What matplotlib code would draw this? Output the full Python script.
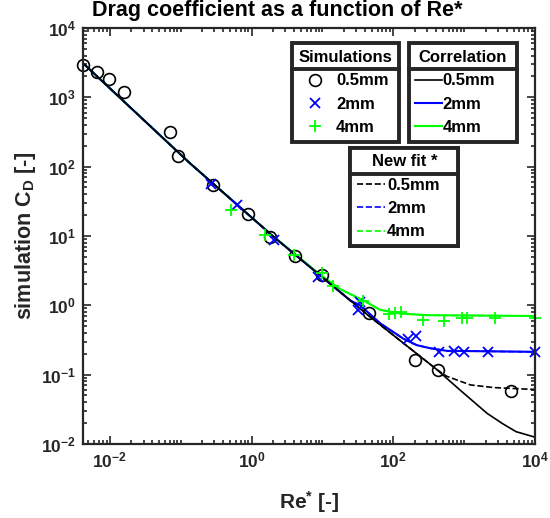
import matplotlib
matplotlib.use("Agg")
import matplotlib.pyplot as plt
from matplotlib.lines import Line2D
import numpy as np

FONT = ["Liberation Sans", "DejaVu Sans"]
DARK = "#262626"
plt.rcParams["font.family"] = FONT
plt.rcParams["font.weight"] = "bold"
plt.rcParams["mathtext.fontset"] = "custom"
plt.rcParams["mathtext.rm"] = "Liberation Sans:bold"
plt.rcParams["mathtext.it"] = "Liberation Sans:bold"
plt.rcParams["mathtext.bf"] = "Liberation Sans:bold"
plt.rcParams["mathtext.default"] = "rm"

# simulation points (Re*, C_D)
re_05 = [0.0042, 0.0066, 0.0097, 0.016, 0.070, 0.092, 0.288, 0.90, 1.82, 4.1, 9.8, 45, 200, 420, 4500]
cd_05 = [2930, 2350, 1820, 1180, 313, 142, 54, 21, 9.55, 5.2, 2.73, 0.78, 0.165, 0.115, 0.058]

re_2 = [0.27, 0.62, 2.05, 8.7, 34, 32, 160, 210, 440, 720, 1000, 2150, 10000]
cd_2 = [57, 28, 8.7, 2.57, 1.1, 0.85, 0.33, 0.355, 0.215, 0.22, 0.215, 0.21, 0.21]

re_4 = [0.52, 1.55, 4.0, 9.8, 14, 37.8, 88, 105, 130, 266, 510, 925, 1090, 2750, 10000]
cd_4 = [23.7, 10.3, 5.3, 2.95, 1.9, 1.15, 0.75, 0.78, 0.80, 0.61, 0.60, 0.65, 0.65, 0.65, 0.65]

# correlation curves
corr_re_05 = [0.0042, 0.135, 2.03, 47, 100, 403, 870, 2100, 3500, 5400, 10000]
corr_cd_05 = [3100, 112, 9.8, 0.68, 0.37, 0.12, 0.06, 0.0276, 0.0195, 0.015, 0.0125]

corr_re_2 = [0.0042, 0.135, 2.03, 25, 34, 65, 138, 214, 330, 570, 10000]
corr_cd_2 = [3100, 112, 9.8, 1.16, 1.0, 0.55, 0.33, 0.266, 0.24, 0.22, 0.213]

corr_re_4 = [0.0042, 0.135, 2.03, 10, 18, 38, 65, 125, 300, 10000]
corr_cd_4 = [3100, 112, 9.8, 2.6, 1.7, 1.17, 0.86, 0.76, 0.72, 0.70]

# new fit curves
fit_re_05 = [0.0042, 0.135, 2.03, 47, 100, 403, 560, 1220, 2590, 10000]
fit_cd_05 = [3100, 112, 9.8, 0.68, 0.37, 0.12, 0.095, 0.071, 0.065, 0.061]
fit_re_2, fit_cd_2 = corr_re_2, corr_cd_2
fit_re_4, fit_cd_4 = corr_re_4, corr_cd_4

sizes = ["0.5mm", "2mm", "4mm"]

BLUE = (0, 0, 1)
GREEN = (0, 1, 0)

fig = plt.figure(figsize=(5.5, 5.18), dpi=100)
ax = fig.add_axes([0.151, 0.143, 0.822, 0.803])

lc4, = ax.plot(corr_re_4, corr_cd_4, "-", color=GREEN, lw=1.5)
lc2, = ax.plot(corr_re_2, corr_cd_2, "-", color=BLUE, lw=1.5)
lc05, = ax.plot(corr_re_05, corr_cd_05, "-", color="k", lw=1.2)
lf4, = ax.plot(fit_re_4, fit_cd_4, "--", color=GREEN, lw=1.2)
lf2, = ax.plot(fit_re_2, fit_cd_2, "--", color=BLUE, lw=1.2)
lf05, = ax.plot(fit_re_05, fit_cd_05, "--", color="k", lw=1.2)

s05, = ax.plot(re_05, cd_05, "o", mfc="none", mec="k", ms=8.5, mew=1.2, clip_on=False)
s2, = ax.plot(re_2, cd_2, "x", color=BLUE, ms=7, mew=1.3, clip_on=False)
s4, = ax.plot(re_4, cd_4, "+", color=GREEN, ms=9, mew=1.3, clip_on=False)

ax.set_xscale("log")
ax.set_yscale("log")
ax.set_xlim(0.0042, 1e4)
ax.set_ylim(1e-2, 1e4)

ax.set_xticks([1e-2, 1, 1e2, 1e4])
xminor = [k * 10.0 ** n for n in range(-3, 4) for k in range(1, 10)]
xminor = [v for v in xminor if 0.0042 <= v <= 1e4 and v not in (1e-2, 1, 1e2, 1e4)]
ax.set_xticks(xminor, minor=True)
ax.set_xticklabels([], minor=True)
ax.set_yticks([10.0 ** n for n in range(-2, 5)])

for sp in ax.spines.values():
    sp.set_linewidth(1.6)
    sp.set_color(DARK)
ax.tick_params(which="both", direction="in", top=True, right=True, colors=DARK, width=1.2)
ax.tick_params(which="major", length=5.5, labelsize=12.5, pad=5)
ax.tick_params(which="minor", length=3)

ax.set_xlabel("Re$^{*}$ [-]", fontsize=15, fontweight="bold", color=DARK, labelpad=13)
ax.set_ylabel("simulation C$_{D}$ [-]", fontsize=15.5, fontweight="bold", color=DARK, labelpad=2)
fig.text(0.504, 0.979, "Drag coefficient as a function of Re*", ha="center", va="center",
         fontsize=15.5, fontweight="bold", color="k")


def boxed_legend(handles, labels, title, box, handlelength, textpad):
    leg = ax.legend(handles, labels, title=title, loc="upper left", bbox_to_anchor=box,
                    mode="expand", frameon=True, fancybox=False, framealpha=1, edgecolor=DARK,
                    prop=dict(family=FONT, weight="bold", size=12),
                    title_fontproperties=dict(family=FONT, weight="bold", size=12),
                    borderpad=0.4, labelspacing=0.5, handlelength=handlelength,
                    handletextpad=textpad, borderaxespad=0)
    leg.get_frame().set_linewidth(2.8)
    ax.add_artist(leg)
    return leg


legs = [
    boxed_legend([s05, s2, s4], sizes, "Simulations", (0.462, 0.5, 0.236, 0.463), 2.0, 0.25),
    boxed_legend([lc05, lc2, lc4], sizes, "Correlation", (0.720, 0.5, 0.239, 0.463), 1.6, 0.05),
    boxed_legend([lf05, lf2, lf4], sizes, "New fit *", (0.591, 0.2, 0.239, 0.512), 1.7, 0.1),
]

# separator line under each legend title
fig.canvas.draw()
renderer = fig.canvas.get_renderer()
inv = fig.transFigure.inverted()
for leg in legs:
    fb = leg.get_frame().get_window_extent(renderer)
    tb = leg._legend_title_box.get_window_extent(renderer)
    hb = leg._legend_handle_box.get_window_extent(renderer)
    y = 0.5 * (tb.y0 + hb.y1)
    (x0, yf), (x1, _) = inv.transform([(fb.x0, y), (fb.x1, y)])
    fig.add_artist(Line2D([x0, x1], [yf, yf], color=DARK, lw=2.8, transform=fig.transFigure))

fig.savefig("out.png", dpi=100)
